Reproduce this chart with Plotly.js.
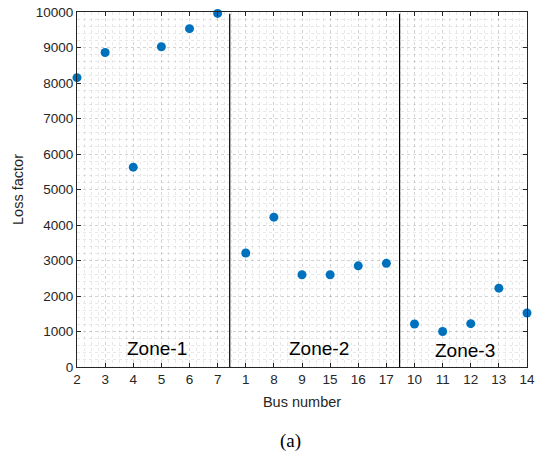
<!DOCTYPE html>
<html>
<head>
<meta charset="utf-8">
<script src="https://cdn.plot.ly/plotly-3.0.1.min.js"></script>
<style>html,body{margin:0;padding:0;background:#fff;}#chart{width:541px;height:455px;}</style>
</head>
<body>
<div id="chart"></div>
<script>
// Bus labels in plotted order
var busLabels = ["2","3","4","5","6","7","1","8","9","15","16","17","10","11","12","13","14"];
// Loss factor values per bus
var lossFactor = [8150, 8860, 5630, 9020, 9530, 9960, 3210, 4220, 2600, 2600, 2850, 2920, 1210, 1000, 1220, 2220, 1520];
// Y tick values / labels
var yTicks = [0,1000,2000,3000,4000,5000,6000,7000,8000,9000,10000];
var yTickLabels = ["0","1000","2000","3000","4000","5000","6000","7000","8000","9000","10000"];
// Zone names and their label positions (position index along bus axis)
var zoneNames = ["Zone-1", "Zone-2", "Zone-3"];
var zoneCenters = [3.84, 9.62, 14.78];
var zoneLabelY = [520, 520, 460];
var zoneBoundaries = [6.43, 12.47];

var xPos = busLabels.map(function(_, i){ return i + 1; });

var trace = {
  x: xPos,
  y: lossFactor,
  mode: 'markers',
  type: 'scatter',
  marker: {color: '#0072BD', size: 9},
  cliponaxis: false,
  showlegend: false
};

var shapes = zoneBoundaries.map(function(b){
  return {type:'line', xref:'x', yref:'y', x0:b, x1:b, y0:0, y1:9950,
          line:{color:'#000', width:1.2}};
});

var annotations = zoneNames.map(function(n, i){
  return {x: zoneCenters[i], y: zoneLabelY[i], xref:'x', yref:'y', text:n, showarrow:false,
          font:{family:'Liberation Sans, Arial, sans-serif', size:19, color:'#000'}};
});
annotations.push({x:0.475, y:-0.245, xref:'paper', yref:'paper', text:'(a)', showarrow:false,
  font:{family:'Liberation Serif, Times New Roman, serif', size:19, color:'#000'}});

var axisFont = {family:'Liberation Sans, Arial, sans-serif', size:13.5, color:'#262626'};
var titleFont = {family:'Liberation Sans, Arial, sans-serif', size:14.5, color:'#262626'};
var gridCol = 'rgba(0,0,0,0.09)';

var layout = {
  width: 541, height: 455,
  margin: {l:77, r:14, t:12, b:88},
  paper_bgcolor:'#fff', plot_bgcolor:'#fff',
  xaxis: {
    range:[1,17], tickvals: xPos, ticktext: busLabels,
    ticks:'inside', ticklen:4, tickcolor:'#262626', showline:true, linecolor:'#262626', linewidth:1,
    mirror:'ticks', zeroline:false,
    showgrid:true, gridcolor:gridCol, griddash:'dot', gridwidth:1,
    minor:{dtick:0.25, showgrid:true, gridcolor:gridCol, griddash:'dot', gridwidth:1},
    tickfont: axisFont,
    title:{text:'Bus number', font:titleFont, standoff:10}
  },
  yaxis: {
    range:[0,10000], tickvals: yTicks, ticktext: yTickLabels,
    ticks:'inside', ticklen:4, tickcolor:'#262626', showline:true, linecolor:'#262626', linewidth:1,
    mirror:'ticks', zeroline:false,
    showgrid:true, gridcolor:gridCol, griddash:'dot', gridwidth:1,
    minor:{dtick:200, showgrid:true, gridcolor:gridCol, griddash:'dot', gridwidth:1},
    tickfont: axisFont,
    title:{text:'Loss factor', font:titleFont, standoff:8}
  },
  shapes: shapes,
  annotations: annotations
};

Plotly.newPlot('chart', [trace], layout, {displayModeBar:false, staticPlot:true});
</script>
</body>
</html>
